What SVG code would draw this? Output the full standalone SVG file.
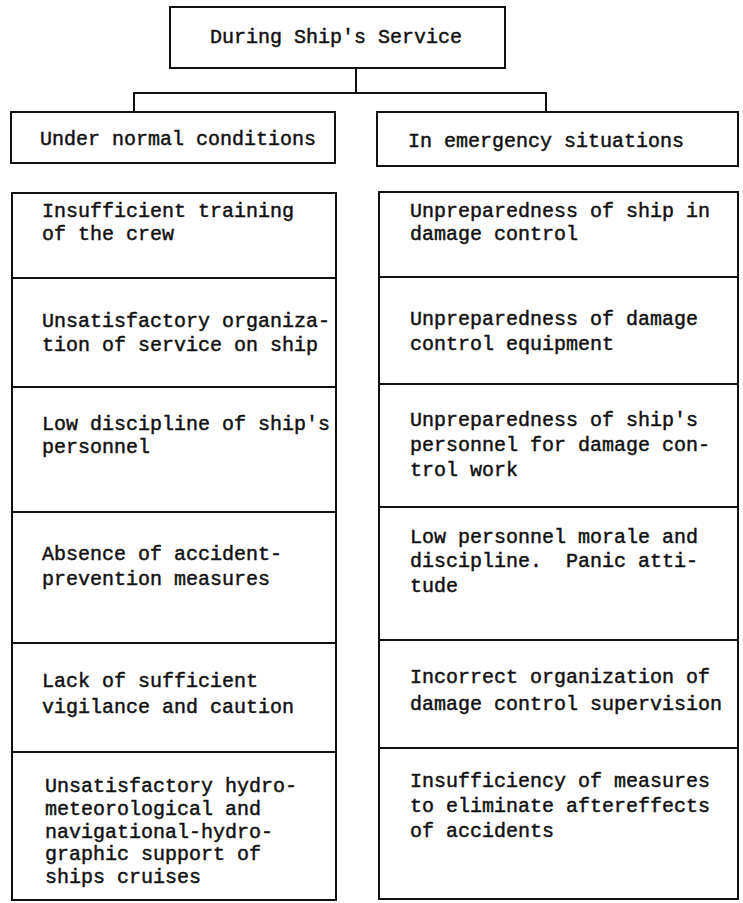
<svg xmlns="http://www.w3.org/2000/svg" width="743" height="903" viewBox="0 0 743 903">
<style>
  .box { fill: #ffffff; stroke: #111111; stroke-width: 2; }
  .div { stroke: #111111; stroke-width: 2; fill: none; }
  .conn { stroke: #111111; stroke-width: 2; fill: none; }
  text { font-family: "Liberation Mono", "Courier New", monospace; font-size: 20px; fill: #111111; stroke: #111111; stroke-width: 0.45; white-space: pre; }
</style>
<rect width="743" height="903" fill="#ffffff"/>
<g id="connectors">
  <path class="conn" d="M356 68 V92"/>
  <path class="conn" d="M134 112 V93 H546 V112"/>
</g>
<g id="root">
  <rect class="box" x="170" y="7" width="335" height="61"/>
  <text x="210" y="43">During Ship's Service</text>
</g>
<g id="normal">
  <rect class="box" x="11" y="112" width="324" height="51"/>
  <text x="40" y="145">Under normal conditions</text>
</g>
<g id="emergency">
  <rect class="box" x="377" y="112" width="361" height="54"/>
  <text x="408" y="147">In emergency situations</text>
</g>
<g id="left-list">
  <rect class="box" x="12" y="193" width="324" height="707"/>
  <path class="div" d="M12 278 H336 M12 387 H336 M12 512 H336 M12 643 H336 M12 752 H336"/>
  <g id="l1"><text x="42" y="217">Insufficient training</text><text x="42" y="240">of the crew</text></g>
  <g id="l2"><text x="42" y="327">Unsatisfactory organiza-</text><text x="42" y="351">tion of service on ship</text></g>
  <g id="l3"><text x="42" y="430">Low discipline of ship's</text><text x="42" y="453">personnel</text></g>
  <g id="l4"><text x="42" y="560">Absence of accident-</text><text x="42" y="585">prevention measures</text></g>
  <g id="l5"><text x="42" y="687">Lack of sufficient</text><text x="42" y="713">vigilance and caution</text></g>
  <g id="l6"><text x="45" y="792">Unsatisfactory hydro-</text><text x="45" y="815">meteorological and</text><text x="45" y="838">navigational-hydro-</text><text x="45" y="860">graphic support of</text><text x="45" y="883">ships cruises</text></g>
</g>
<g id="right-list">
  <rect class="box" x="379" y="192" width="359" height="707"/>
  <path class="div" d="M379 277 H738 M379 384 H738 M379 507 H738 M379 640 H738 M379 748 H738"/>
  <g id="r1"><text x="410" y="217">Unpreparedness of ship in</text><text x="410" y="240">damage control</text></g>
  <g id="r2"><text x="410" y="325">Unpreparedness of damage</text><text x="410" y="350">control equipment</text></g>
  <g id="r3"><text x="410" y="426">Unpreparedness of ship's</text><text x="410" y="451">personnel for damage con-</text><text x="410" y="476">trol work</text></g>
  <g id="r4"><text x="410" y="543">Low personnel morale and</text><text x="410" y="567" xml:space="preserve">discipline.  Panic atti-</text><text x="410" y="592">tude</text></g>
  <g id="r5"><text x="410" y="683">Incorrect organization of</text><text x="410" y="710">damage control supervision</text></g>
  <g id="r6"><text x="410" y="787">Insufficiency of measures</text><text x="410" y="812">to eliminate aftereffects</text><text x="410" y="837">of accidents</text></g>
</g>
</svg>
